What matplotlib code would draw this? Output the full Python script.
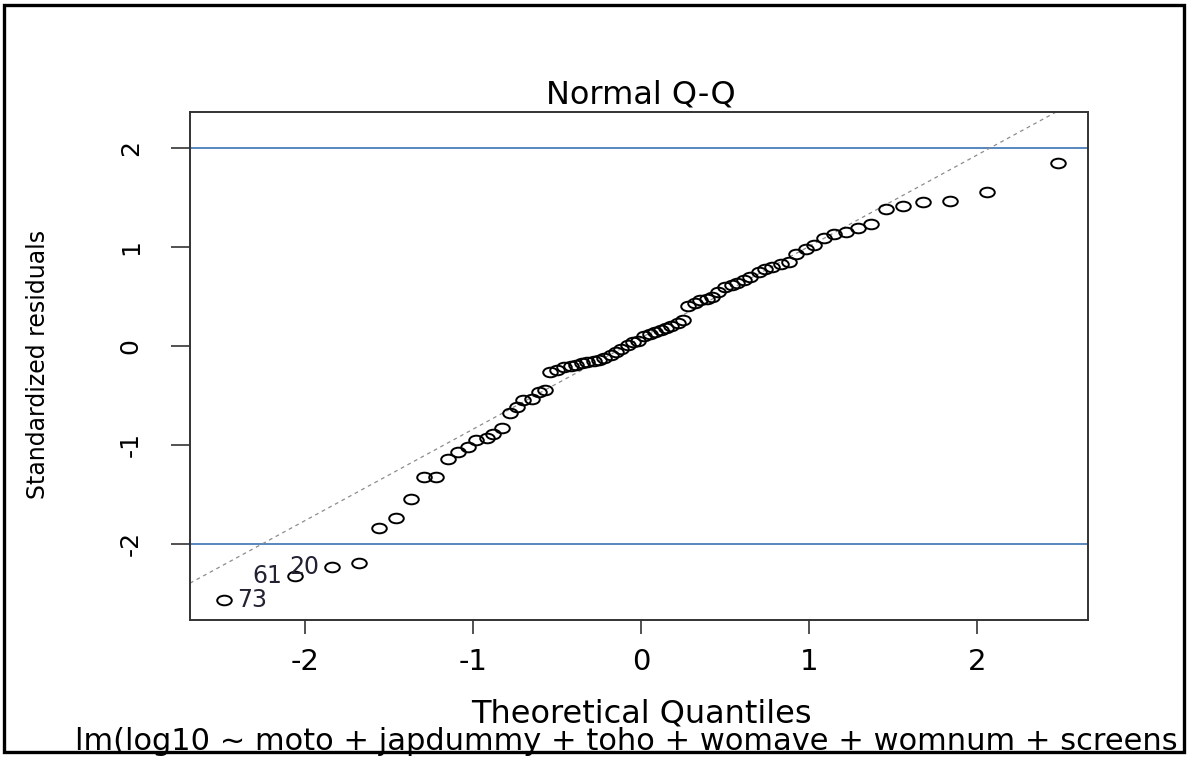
import numpy as np
import matplotlib
matplotlib.use("Agg")
import matplotlib.pyplot as plt
from matplotlib.path import Path
from matplotlib.transforms import Affine2D
from matplotlib.patches import Rectangle

# theoretical quantiles (x)
theo_q = [-2.48, -2.06, -1.84, -1.68, -1.56, -1.46, -1.37, -1.29, -1.22, -1.15,
          -1.09, -1.03, -0.98, -0.92, -0.88, -0.83, -0.78, -0.74, -0.70, -0.65,
          -0.61, -0.57, -0.54, -0.50, -0.46, -0.42, -0.39, -0.35, -0.32, -0.28,
          -0.25, -0.22, -0.18, -0.15, -0.12, -0.08, -0.05, -0.02,
          0.02, 0.05, 0.08, 0.12, 0.15, 0.18, 0.22, 0.25, 0.28, 0.32,
          0.35, 0.39, 0.42, 0.46, 0.50, 0.54, 0.57, 0.61, 0.65, 0.70,
          0.74, 0.78, 0.83, 0.88, 0.92, 0.98, 1.03, 1.09, 1.15, 1.22,
          1.29, 1.37, 1.46, 1.56, 1.68, 1.84, 2.06, 2.48]

# sorted standardized residuals (y)
std_resid = [-2.57, -2.33, -2.23, -2.19, -1.84, -1.74, -1.55, -1.33, -1.33, -1.14,
             -1.07, -1.02, -0.95, -0.93, -0.89, -0.83, -0.68, -0.62, -0.55, -0.54,
             -0.47, -0.45, -0.27, -0.25, -0.22, -0.21, -0.19, -0.17, -0.16, -0.15,
             -0.14, -0.12, -0.09, -0.06, -0.03, 0.01, 0.04, 0.05,
             0.10, 0.12, 0.14, 0.16, 0.18, 0.20, 0.23, 0.26, 0.40, 0.43,
             0.46, 0.47, 0.49, 0.54, 0.59, 0.61, 0.63, 0.66, 0.69, 0.74,
             0.77, 0.79, 0.82, 0.85, 0.93, 0.98, 1.02, 1.09, 1.13, 1.15,
             1.19, 1.23, 1.38, 1.41, 1.45, 1.46, 1.55, 1.84]

# labelled outliers: index into the sorted arrays -> observation id
outlier_idx = [0, 1, 2]
outlier_ids = ["73", "61", "20"]

tick_vals = [-2, -1, 0, 1, 2]
tick_labels = ["-2", "-1", "0", "1", "2"]

W, H = 1192, 757
plt.rcParams['font.family'] = ['DejaVu Sans']
plt.rcParams['axes.unicode_minus'] = False

fig = plt.figure(figsize=(W / 100, H / 100), dpi=100)
ax = fig.add_axes([190 / W, 1 - 620 / H, (1088 - 190) / W, (620 - 112) / H])

# reference lines at +-2
ax.axhline(2, color='#4a7ebb', lw=1.3, zorder=1)
ax.axhline(-2, color='#4a7ebb', lw=1.3, zorder=1)

# qq line through the quartiles
y = np.array(std_resid)
q1, q3 = np.quantile(y, [0.25, 0.75])
zq = 0.6745
slope = (q3 - q1) / (2 * zq)
icpt = q1 + zq * slope
ax.axline((0, icpt), slope=slope, color='#8c8c8c', lw=0.9,
          linestyle=(0, (3, 3)), zorder=1)

# open (slightly flattened) circles
ell = Path.unit_circle().transformed(Affine2D().scale(1, 0.66))
ax.plot(theo_q, std_resid, linestyle='none', marker=ell, ms=10.5,
        mfc='none', mec='black', mew=1.4, zorder=3)

xs_lab = [theo_q[j] for j in outlier_idx]
mid = (min(xs_lab) + max(xs_lab)) / 2
for i, lab in zip(outlier_idx, outlier_ids):
    if theo_q[i] > mid:
        off, ha = (-9, 0), 'right'
    else:
        off, ha = (9, 0), 'left'
    ax.annotate(lab, (theo_q[i], std_resid[i]), xytext=off, textcoords='offset points',
                ha=ha, va='center', fontsize=17, color='#222233')

ax.set_xlim(-2.685, 2.66)
ax.set_ylim(-2.77, 2.36)
ax.set_xticks(tick_vals, labels=tick_labels)
ax.set_yticks(tick_vals, labels=tick_labels)
ax.tick_params(axis='x', length=10, width=1.2, pad=10, labelsize=21, color='#333333')
ax.tick_params(axis='y', length=14, width=1.2, pad=20, labelsize=18, color='#333333')
for lbl in ax.get_yticklabels():
    lbl.set_rotation(90)
    lbl.set_va('center')
for s in ax.spines.values():
    s.set_linewidth(1.4)
    s.set_color('#333333')

fig.text(641 / W, 1 - 95 / H, "Normal Q-Q", ha='center', va='center', fontsize=23)
fig.text(641 / W, 1 - 714 / H, "Theoretical Quantiles", ha='center', va='center', fontsize=23)
fig.text(38 / W, 1 - 364 / H, "Standardized residuals", ha='center', va='center',
         rotation=90, fontsize=17)
# sub caption is cut off by the screenshot edge in the original
fig.text(75 / W, 1 - 741 / H,
         "lm(log10 ~ moto + japdummy + toho + womave + womnum + screens",
         ha='left', va='center', fontsize=22)

# screenshot frame around the whole figure
fig.patches.append(Rectangle((4 / W, 5 / H), (1184 - 4) / W, (752 - 5) / H,
                             transform=fig.transFigure, fill=False, lw=2.4, ec='black',
                             zorder=11))

fig.savefig("out.png", dpi=100)
